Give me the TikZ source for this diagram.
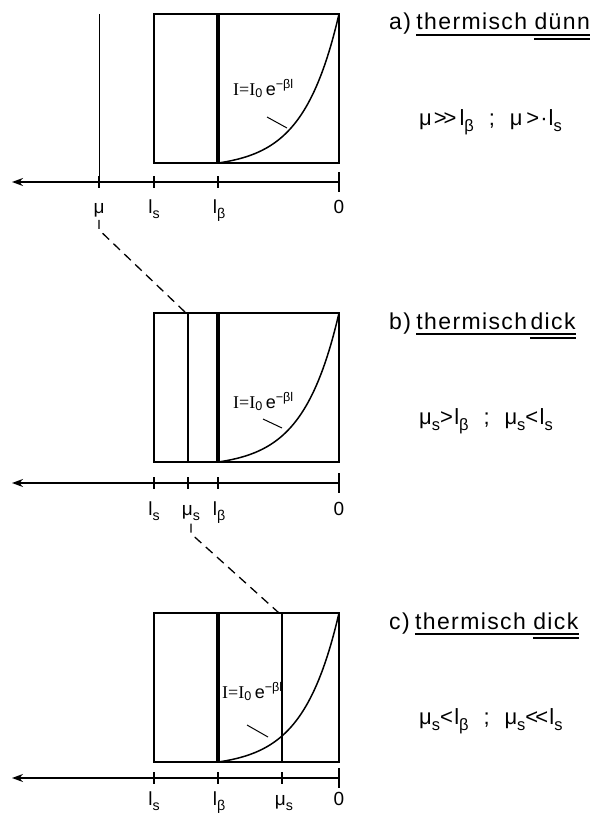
\documentclass[tikz,border=0pt]{standalone}
\usepackage{fontspec}
\setmainfont{Liberation Sans}
\newfontfamily\serifI{Liberation Serif}
\usetikzlibrary{arrows.meta,positioning}
\newcommand{\lo}[1]{\raisebox{-0.28em}{\scalebox{0.75}{#1}}}
\tikzset{
  >={Stealth[length=11pt,width=8pt]},
  frame/.style={line width=1.8pt},
  layer/.style={line width=4.5pt},
  depth/.style={line width=1.1pt},
  axis/.style={->,line width=1.5pt},
  tick/.style={line width=1.5pt},
  link/.style={dash pattern=on 9pt off 6pt,line width=1.3pt},
  uline/.style={line width=1.4pt},
  tagtxt/.style={font=\fontsize{23}{27}\selectfont\addfontfeatures{LetterSpace=6},
                 inner sep=0pt,anchor=base west},
  ticklbl/.style={font=\fontsize{19}{23}\selectfont,inner sep=0pt,anchor=base},
  eqtxt/.style={font=\fontsize{22}{26}\selectfont\addfontfeatures{LetterSpace=6},
                inner sep=0pt,anchor=base west},
  lawtxt/.style={font=\fontsize{18}{21}\selectfont,inner sep=0pt,anchor=base west},
}
\begin{document}
\begin{tikzpicture}[x=1pt,y=-1pt]
  \useasboundingbox (0,0) rectangle (599,816);
  % three panels: box, absorption curve, axis, title and condition
  \foreach \oy/\axy/\lby/\tag/\word/\gap/\eq/\lx/\ly/\ax/\ay/\bx/\by in {
      0/182/213/a/dünn/7pt/{μ\kern2pt>\kern-3pt>\kern3pt l\lo{β}\ \ ;\ \ μ\kern4pt>\kern1pt·\kern1pt l\lo{s}}/233/95/267/117/287/128,
      299/184/216/b/dick/3pt/{μ\lo{s}>l\lo{β}\ \ ;\ \ μ\lo{s}<l\lo{s}}/233/109/263/120/282/129,
      599/179/206/c/dick/7pt/{μ\lo{s}<l\lo{β}\ \ ;\ \ μ\lo{s}<\kern-3pt<l\lo{s}}/222/99/247/126/268/138}{
    \begin{scope}[shift={(0,\oy)}]
      \draw[frame] (154,14) rectangle (339,163);
      \draw[layer] (218,14) -- (218,163);
      \draw[line width=1.5pt] plot[domain=0:121,samples=60]
        ({339-\x},{163-149*(exp(-0.028*\x)-0.0338)/0.9662});
      \node[lawtxt] (law\tag) at (\lx,\ly)
        {{\serifI I=I}\textsubscript{0}\,e\textsuperscript{−βl}};
      \draw[line width=1pt] (\ax,\ay) -- (\bx,\by);
      \draw[axis] (339,\axy) -- (12,\axy);
      \foreach \tx in {154,218}
        \draw[tick] (\tx,\axy-6) -- (\tx,\axy+6);
      \draw[line width=2.2pt] (339,\axy-10) -- (339,\axy+10);
      \node[ticklbl] (ls\tag) at (154,\lby) {l\lo{s}};
      \node[ticklbl] (lb\tag) at (219,\lby) {l\lo{β}};
      \node[ticklbl] (z\tag) at (339,\lby) {0};
      % title with underlines
      \node[tagtxt] (h\tag) at (389,30) {\tag)};
      \node[tagtxt] (w\tag) at ([xshift=5pt]h\tag.base east) {thermisch};
      \node[tagtxt] (d\tag) at ([xshift=\gap]w\tag.base east) {\word};
      \draw[uline] ([yshift=-5pt]w\tag.base west) -- ([yshift=-5pt]d\tag.base east);
      \draw[uline] ([yshift=-9pt]d\tag.base west) -- ([yshift=-9pt]d\tag.base east);
      \node[eqtxt] (eq\tag) at (419,125) {\eq};
    \end{scope}
  }
  % penetration depths
  \draw[line width=0.8pt] (99,14) -- (99,176);
  \draw[tick] (99,176) -- (99,188);
  \node[ticklbl] (mua) at (99,213) {μ};
  \draw[depth] (188,313) -- (188,462);
  \draw[tick] (188,477) -- (188,489);
  \node[ticklbl] (mub) at (191,515) {μ\lo{s}};
  \draw[depth] (282,613) -- (282,762);
  \draw[tick] (282,772) -- (282,784);
  \node[ticklbl] (muc) at (284,805) {μ\lo{s}};
  % dashed links
  \coordinate (lnkb) at (186,313);
  \coordinate (lnkc) at (279,613);
  \draw[link] ([yshift=-3pt]mua.south) -- ++(0,10) -- (lnkb);
  \draw[link] ([yshift=-3pt]mub.south) -- ++(0,10) -- (lnkc);
\end{tikzpicture}
\end{document}
